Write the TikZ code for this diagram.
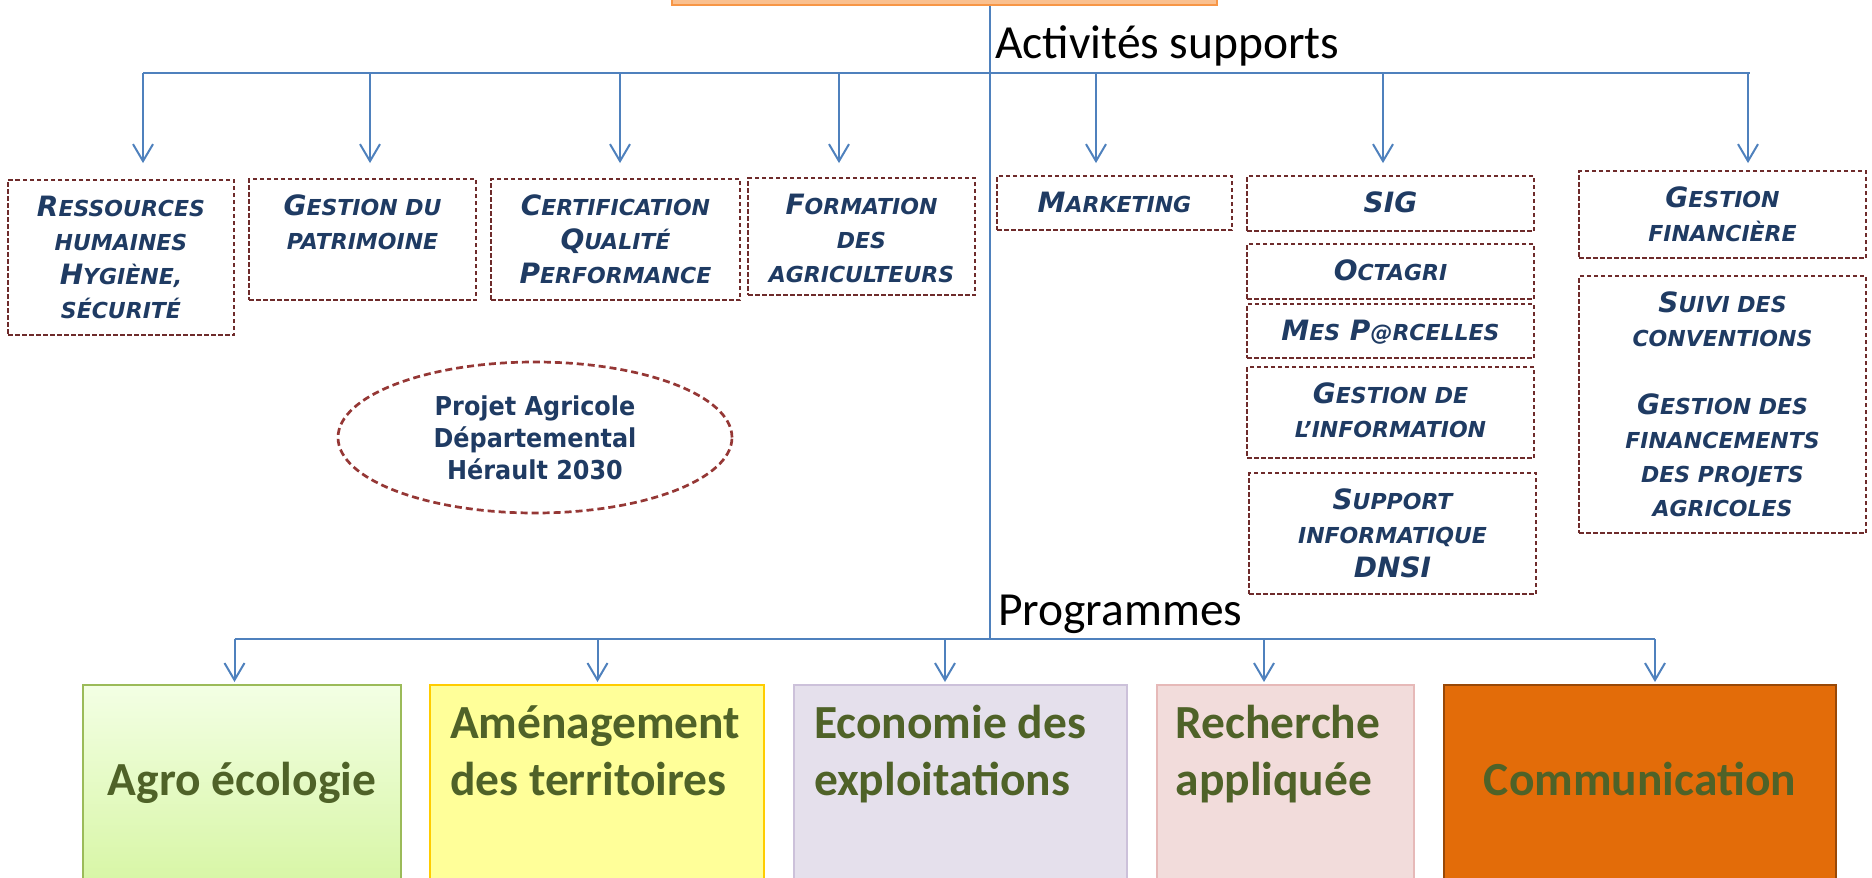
\documentclass[tikz,border=0pt]{standalone}
\usepackage{fontspec}
\setmainfont{Carlito}
\newfontfamily\vfont{DejaVu Sans}
\newfontfamily\efont[FakeStretch=0.92]{DejaVu Sans}
\usetikzlibrary{arrows.meta,shapes.geometric}
\definecolor{bl}{HTML}{4F81BD}
\definecolor{dred}{HTML}{6E2B2B}
\definecolor{ered}{HTML}{953735}
\definecolor{navy}{HTML}{1F3B63}
\definecolor{olv}{HTML}{4F6228}
\definecolor{orf}{HTML}{FAC08F}
\definecolor{ord}{HTML}{F79646}
\definecolor{agb}{HTML}{9BBB59}
\definecolor{agt}{HTML}{F3FFE4}
\definecolor{agbt}{HTML}{D5F5A0}
\definecolor{amf}{HTML}{FFFF99}
\definecolor{amb}{HTML}{FFCC00}
\definecolor{ecf}{HTML}{E5E0EC}
\definecolor{ecb}{HTML}{CCC1DA}
\definecolor{rcf}{HTML}{F2DCDB}
\definecolor{rcb}{HTML}{E6B9B8}
\definecolor{cmf}{HTML}{E36C09}
\definecolor{cmb}{HTML}{984807}
\newcommand\sca[1]{{\fontsize{22}{34}\selectfont #1}}
\newcommand\btext[3]{\parbox[t][#2][t]{#1}{\centering\vspace*{9.5pt}\rule{0pt}{27pt}#3}}
\newcommand\ptxt[4]{\parbox[t][215pt][t]{#1}{#2\vspace*{#3}\rule{0pt}{35pt}#4}}
\tikzset{
  ln/.style={draw=bl, line width=2pt},
  arr/.style={ln, -{Straight Barb[length=17pt,width=20pt]}},
  sbox/.style={draw=dred, line width=1.8pt, dash pattern=on 4.5pt off 2.5pt, inner sep=0pt,
    font=\vfont\bfseries\itshape\fontsize{28}{34}\selectfont, text=navy},
  prog/.style={line width=2pt, inner sep=0pt, font=\bfseries\fontsize{47.5}{57}\selectfont, text=olv},
  lbl/.style={anchor=base west, inner sep=0pt, font=\fontsize{47.5}{57}\selectfont, text=black},
}
\begin{document}
\begin{tikzpicture}[x=1pt,y=-1pt]
\useasboundingbox (0,0) rectangle (1872,878);
\clip (0,0) rectangle (1872,878);
% top box
\node[draw=ord, fill=orf, line width=2pt, minimum width=545pt, minimum height=70pt] (topbox) at (944.5,-30) {};
% labels
\node[lbl] (as) at (995,58) {Activités supports};
\node[lbl] (pg) at (998,625) {Programmes};
% support boxes
\node[sbox] (res) at (121,257.5) {\btext{226pt}{155pt}{R\sca{ESSOURCES}\\\sca{HUMAINES}\\H\sca{YGIÈNE,}\\\sca{SÉCURITÉ}}};
\node[sbox] (pat) at (362.5,239.5) {\btext{227pt}{121pt}{G\sca{ESTION DU}\\\sca{PATRIMOINE}}};
\node[sbox] (cert) at (615.5,239.5) {\btext{249pt}{121pt}{C\sca{ERTIFICATION}\\Q\sca{UALITÉ}\\P\sca{ERFORMANCE}}};
\node[sbox] (form) at (861.5,236.5) {\btext{227pt}{117pt}{F\sca{ORMATION}\\\sca{DES}\\\sca{AGRICULTEURS}}};
\node[sbox] (mkt) at (1114.5,203) {\btext{235pt}{54pt}{M\sca{ARKETING}}};
\node[sbox] (sig) at (1390.5,203.5) {\btext{287pt}{55pt}{SIG}};
\node[sbox] (oct) at (1390.5,271.5) {\btext{287pt}{55pt}{O\sca{CTAGRI}}};
\node[sbox] (mes) at (1390.5,331) {\btext{287pt}{54pt}{M\sca{ES} P\sca{@RCELLES}}};
\node[sbox] (ginf) at (1390.5,412.5) {\btext{287pt}{91pt}{G\sca{ESTION DE}\\\sca{L’INFORMATION}}};
\node[sbox] (sup) at (1392.5,533.5) {\btext{287pt}{121pt}{S\sca{UPPORT}\\\sca{INFORMATIQUE}\\DNSI}};
\node[sbox] (gfin) at (1722.5,214.5) {\btext{287pt}{87pt}{G\sca{ESTION}\\\sca{FINANCIÈRE}}};
\node[sbox] (suivi) at (1722.5,404.5) {\btext{287pt}{257pt}{S\sca{UIVI DES}\\\sca{CONVENTIONS}\\[34pt]G\sca{ESTION DES}\\\sca{FINANCEMENTS}\\\sca{DES PROJETS}\\\sca{AGRICOLES}}};
% ellipse
\node[ellipse, draw=ered, line width=2.7pt, dash pattern=on 7pt off 4pt, minimum width=394pt, minimum height=151pt,
  inner sep=0pt, align=center, font=\efont\bfseries\fontsize{26}{32}\selectfont, text=navy] (pad) at (535,437.5)
  {Projet Agricole\\Départemental\\Hérault 2030};
% programme boxes
\node[prog, draw=agb, top color=agt, bottom color=agbt] (agro) at (242,792.5) {\ptxt{318pt}{\centering}{75pt}{Agro écologie}};
\node[prog, draw=amb, fill=amf] (amen) at (596.75,792.5) {\ptxt{333.5pt}{\raggedright\leftskip=20pt\relax}{18pt}{Aménagement\\des territoires}};
\node[prog, draw=ecb, fill=ecf] (eco) at (960.25,792.5) {\ptxt{332.5pt}{\raggedright\leftskip=20pt\relax}{18pt}{Economie des\\exploitations}};
\node[prog, draw=rcb, fill=rcf] (rech) at (1285.3,792.5) {\ptxt{257.4pt}{\raggedright\leftskip=19pt\relax}{18pt}{Recherche\\appliquée}};
\node[prog, draw=cmb, fill=cmf] (comm) at (1640,792.5) {\ptxt{392pt}{\centering}{75pt}{Communication}};
% connectors
\draw[ln] (990,0 |- topbox.south) -- (990,639);
\draw[ln] (143,73) -- (1750,73);
\draw[arr, shorten >=16pt] (143,73) -- (143,0 |- res.north);
\draw[arr, shorten >=15pt] (370,73) -- (370,0 |- pat.north);
\draw[arr, shorten >=15pt] (620,73) -- (620,0 |- cert.north);
\draw[arr, shorten >=14pt] (839,73) -- (839,0 |- form.north);
\draw[arr, shorten >=12pt] (1096,73) -- (1096,0 |- mkt.north);
\draw[arr, shorten >=12pt] (1383,73) -- (1383,0 |- sig.north);
\draw[arr, shorten >=7pt] (1748,73) -- (1748,0 |- gfin.north);
\draw[ln] (234.5,639) -- (1655,639);
\draw[arr, shorten >=2pt] (234.5,639) -- (234.5,0 |- agro.north);
\draw[arr, shorten >=2pt] (597.5,639) -- (597.5,0 |- amen.north);
\draw[arr, shorten >=2pt] (945,639) -- (945,0 |- eco.north);
\draw[arr, shorten >=2pt] (1264,639) -- (1264,0 |- rech.north);
\draw[arr, shorten >=2pt] (1655,639) -- (1655,0 |- comm.north);
\end{tikzpicture}
\end{document}
